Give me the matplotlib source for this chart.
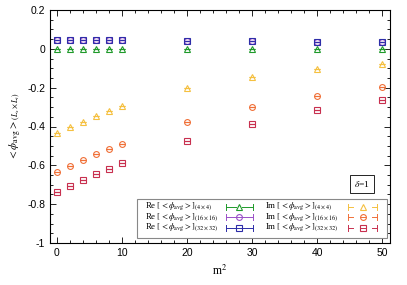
import matplotlib
matplotlib.use("Agg")
import matplotlib.pyplot as plt
from matplotlib.lines import Line2D
from matplotlib.patches import Rectangle
from matplotlib.ticker import MultipleLocator

m2 = [0, 2, 4, 6, 8, 10, 20, 30, 40, 50]
re_4 = [0.0, 0.0, 0.0, 0.0, 0.0, 0.0, 0.0, 0.0, 0.0, 0.0]
re_16 = [0.045, 0.045, 0.045, 0.045, 0.045, 0.045, 0.042, 0.039, 0.036, 0.034]
re_32 = [0.043, 0.043, 0.043, 0.043, 0.043, 0.043, 0.041, 0.038, 0.036, 0.033]
im_4 = [-0.435, -0.404, -0.375, -0.345, -0.32, -0.295, -0.203, -0.143, -0.103, -0.076]
im_16 = [-0.632, -0.601, -0.571, -0.540, -0.514, -0.488, -0.378, -0.297, -0.241, -0.197]
im_32 = [-0.737, -0.706, -0.675, -0.644, -0.617, -0.589, -0.473, -0.385, -0.316, -0.262]
err = [0.0] * 10

labels = [r'Re $[<\phi_{\rm avg}>]_{(4\times4)}$',
          r'Re $[<\phi_{\rm avg}>]_{(16\times16)}$',
          r'Re $[<\phi_{\rm avg}>]_{(32\times32)}$',
          r'Im $[<\phi_{\rm avg}>]_{(4\times4)}$',
          r'Im $[<\phi_{\rm avg}>]_{(16\times16)}$',
          r'Im $[<\phi_{\rm avg}>]_{(32\times32)}$']

plt.rcParams['mathtext.fontset'] = 'stix'
plt.rcParams['font.family'] = ['Liberation Sans', 'DejaVu Sans']

W, H = 407, 285
fig = plt.figure(figsize=(W / 100, H / 100), dpi=100)
ax = fig.add_axes([50 / W, 42 / H, 340 / W, 233 / H])

series = [
    (re_4, '^', '#1f9a2a', False),
    (re_16, 'o', '#9a4fc8', False),
    (re_32, 's', '#2d2da8', False),
    (im_4, '^', '#f5c040', True),
    (im_16, 'o', '#f07038', True),
    (im_32, 's', '#c8304f', True),
]

for (vals, mk, col, dashed) in series:
    ax.errorbar(m2, vals, yerr=err, fmt=mk, color=col, mfc='none', mec=col,
                ms=4.2 if mk != '^' else 4.5, mew=0.8, ecolor=col, elinewidth=0.7,
                capsize=2.4, capthick=0.7, zorder=3)


def fx(x):
    return x / W


def fy(y):
    return 1 - y / H


# legend drawn by hand (text left aligned, sample on the right)
fig.patches.append(Rectangle((fx(137), fy(238)), fx(387) - fx(137), fy(199) - fy(238),
                             transform=fig.transFigure, fc='white', ec='#888888',
                             lw=0.8, zorder=5))
rows_y = [206.5, 217, 227.5]
cols = [(145, 226, 253), (265, 348, 377)]
for i, (vals, mk, col, dashed) in enumerate(series):
    c = i // 3
    r = i % 3
    tx, hx0, hx1 = cols[c]
    yy = rows_y[r]
    fig.text(fx(tx), fy(yy + 2.3), labels[i], family='Liberation Serif',
             fontsize=6.3, va='baseline', ha='left', zorder=6)
    xm = (hx0 + hx1) / 2
    lines = []
    if dashed:
        lines.append(([hx0, hx0 + 5], [yy, yy]))
        lines.append(([hx1 - 5, hx1], [yy, yy]))
    else:
        lines.append(([hx0, xm - 3], [yy, yy]))
        lines.append(([xm + 3, hx1], [yy, yy]))
    for xx in (hx0, hx1):
        lines.append(([xx, xx], [yy - 3, yy + 3]))
    if mk in ('o', 's'):
        lines.append(([xm - 2.5, xm + 2.5], [yy, yy]))
    for lx, ly in lines:
        fig.lines.append(Line2D([fx(v) for v in lx], [fy(v) for v in ly],
                                transform=fig.transFigure, color=col, lw=0.7, zorder=6))
    fig.lines.append(Line2D([fx(xm)], [fy(yy)], transform=fig.transFigure,
                            marker=mk, ls='none', mfc='none', mec=col,
                            ms=4.2, mew=0.8, zorder=6))

ax.text(0.918, 0.253, r'$\delta$=1', transform=ax.transAxes, ha='center', va='center',
        fontsize=6.8, family='Liberation Serif',
        bbox=dict(boxstyle='square,pad=0.4', fc='white', ec='black', lw=0.6))

ax.set_xlim(-1, 51.2)
ax.set_ylim(-1, 0.2)
ax.xaxis.set_major_locator(MultipleLocator(10))
ax.xaxis.set_minor_locator(MultipleLocator(2))
ax.yaxis.set_major_locator(MultipleLocator(0.2))
ax.yaxis.set_minor_locator(MultipleLocator(0.05))
ax.tick_params(which='both', direction='in', top=True, right=True, labelsize=7.5, width=0.6)
ax.tick_params(which='major', length=4)
ax.tick_params(which='minor', length=2)
ax.set_yticks([0.2, 0, -0.2, -0.4, -0.6, -0.8, -1])
ax.set_yticklabels(['0.2', '0', '-0.2', '-0.4', '-0.6', '-0.8', '-1'])
for s in ax.spines.values():
    s.set_linewidth(0.8)

ax.set_xlabel(r'm$^2$', family='Liberation Serif', fontsize=8.5, labelpad=4)
ax.set_ylabel(r'$<\phi_{\rm avg}>_{(L_x\times L_t)}$', fontsize=8, labelpad=2)

fig.savefig('out.png', dpi=100)
